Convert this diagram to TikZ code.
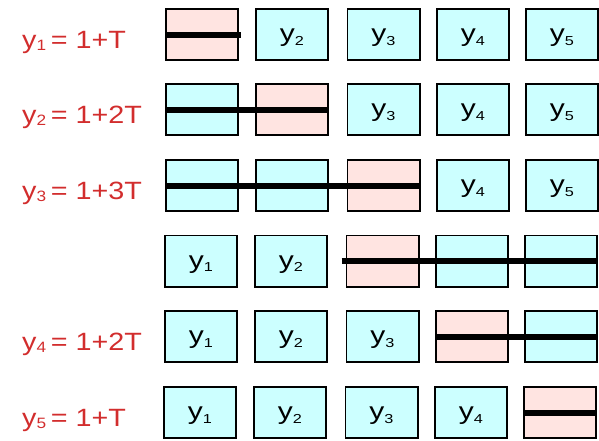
\documentclass[tikz,border=0pt]{standalone}
\usepackage{fontspec}
\setmainfont{Liberation Sans}
\definecolor{hotfill}{RGB}{255,228,225}
\definecolor{coldfill}{RGB}{204,255,255}
\definecolor{eqred}{RGB}{210,45,45}
\newcommand{\yvar}[1]{\scalebox{1.25}[1]{\fontsize{24}{24}\selectfont y\raisebox{-3.5pt}{\fontsize{13}{13}\selectfont #1}}}
\newcommand{\yeq}[2]{\scalebox{1.15}[1]{\fontsize{25}{25}\selectfont y\raisebox{-2.5pt}{\fontsize{15}{15}\selectfont #1}\hspace{4pt}= #2}}
\tikzset{
  cell/.style={draw=black, line width=1.8pt, minimum width=72.2pt, minimum height=51.2pt,
    inner sep=0pt, text height=14pt, text depth=0pt},
  bar/.style={line width=6pt},
  eqn/.style={text=eqred, anchor=base west, inner sep=0pt}
}
\begin{document}
\begin{tikzpicture}[x=1pt,y=-1pt]
  \useasboundingbox (0,0) rectangle (599,440);
  % rows of cells: row/y/shift/hot cell/bar from/bar to/bar ends
  \foreach \r/\yy/\dx/\hot/\from/\to/\lx/\rx in {1/34.5/0/1/1/1/0/2, 2/109.5/0/2/1/2/0/0,
      3/185.5/0/3/1/3/0/0, 4/261/-1/3/3/5/-4/0, 5/336.5/-1/4/4/5/0/0, 6/412.5/-2/5/5/5/0/-2}{
    \foreach \c/\xx in {1/202,2/292,3/383.5,4/473,5/562}{
      \ifnum\c=\hot\relax\def\cellfill{hotfill}\else\def\cellfill{coldfill}\fi
      \node[cell, fill=\cellfill] (b\r\c) at (\xx+\dx,\yy)
        {\ifnum\c<\from\relax\yvar{\c}\fi\ifnum\c>\to\relax\yvar{\c}\fi};
    }
    \draw[bar] ([xshift=\lx pt]b\r\from.west) -- ([xshift=\rx pt]b\r\to.east);
  }
  % equations on the left
  \foreach \r/\k/\yy/\rhs in {1/1/34.5/{1+T}, 2/2/109.5/{1+2T}, 3/3/185.5/{1+3T},
      5/4/336.5/{1+2T}, 6/5/412.5/{1+T}}
    \node[eqn] (eq\r) at (22,\yy+13.5) {\yeq{\k}{\rhs}};
\end{tikzpicture}
\end{document}
